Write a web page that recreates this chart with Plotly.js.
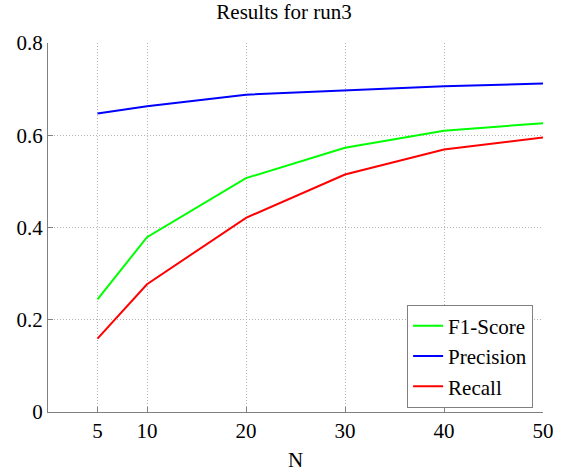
<!DOCTYPE html>
<html>
<head>
<meta charset="utf-8">
<script src="https://cdn.plot.ly/plotly-3.0.1.min.js"></script>
<style>html,body{margin:0;padding:0;background:#fff;}#chart{width:568px;height:472px;}</style>
</head>
<body>
<div id="chart"></div>
<script>
var N = [5, 10, 20, 30, 40, 50];
var f1Score = [0.244, 0.379, 0.507, 0.573, 0.610, 0.626];
var precision = [0.647, 0.663, 0.688, 0.697, 0.706, 0.712];
var recall = [0.159, 0.277, 0.421, 0.515, 0.569, 0.595];
var xTicks = [5, 10, 20, 30, 40, 50];
var yTicks = [0, 0.2, 0.4, 0.6, 0.8];
var yTickText = ['0', '0.2', '0.4', '0.6', '0.8'];

var font = '"Liberation Serif"';
var traces = [
  {x: N, y: f1Score, name: 'F1-Score', mode: 'lines', line: {color: '#00ff00', width: 2}},
  {x: N, y: precision, name: 'Precision', mode: 'lines', line: {color: '#0000ff', width: 2}},
  {x: N, y: recall, name: 'Recall', mode: 'lines', line: {color: '#ff0000', width: 2}}
];
var layout = {
  width: 568, height: 472,
  margin: {l: 48, r: 25, t: 43, b: 60},
  paper_bgcolor: '#fff', plot_bgcolor: '#fff',
  font: {family: font, size: 21, color: '#000'},
  title: {text: 'Results for run3', font: {family: font, size: 21, color: '#000'}, x: 0.5, xanchor: 'center', y: 1, yref: 'container', yanchor: 'top', pad: {t: 4}},
  xaxis: {
    range: [0, 50], tickvals: xTicks, ticktext: xTicks.map(String),
    showgrid: true, gridcolor: '#b4b4b4', griddash: '1px,2px', gridwidth: 1,
    showline: true, linecolor: '#808080', linewidth: 1,
    ticks: 'inside', ticklen: 5, tickcolor: '#808080',
    zeroline: false,
    tickfont: {family: font, size: 21, color: '#000'},
    title: {text: 'N', font: {family: font, size: 21, color: '#000'}, standoff: 10}
  },
  yaxis: {
    range: [0, 0.8], tickvals: yTicks, ticktext: yTickText,
    showgrid: true, gridcolor: '#b4b4b4', griddash: '1px,2px', gridwidth: 1,
    showline: true, linecolor: '#808080', linewidth: 1,
    ticks: 'inside', ticklen: 5, tickcolor: '#808080',
    zeroline: false,
    tickfont: {family: font, size: 21, color: '#000'}
  },
  showlegend: true,
  legend: {
    x: 0.98, y: 0.012, xanchor: 'right', yanchor: 'bottom',
    bgcolor: '#fff', bordercolor: '#808080', borderwidth: 1,
    font: {family: font, size: 21, color: '#000'},
    tracegroupgap: 0
  }
};
Plotly.newPlot('chart', traces, layout, {displayModeBar: false});
</script>
</body>
</html>
